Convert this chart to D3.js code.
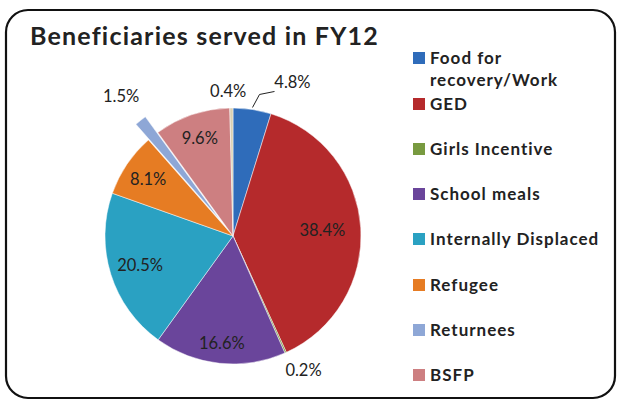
<!DOCTYPE html>
<html lang="en">
    <head>
        <meta charset="utf-8">
        <title>Beneficiaries served in FY12</title>
        <script type="text/javascript" src="https://cdn.jsdelivr.net/npm/d3@7"></script>
        <style type="text/css">
            body {
                margin: 0;
                background: white;
            }
            text {
                font-family: Lato, "Open Sans", sans-serif;
                fill: #222;
            }
        </style>
    </head>
    <body>
        <script type="text/javascript">
            //Data
            var categories = ["Food for recovery/Work", "GED", "Girls Incentive", "School meals",
                              "Internally Displaced", "Refugee", "Returnees", "BSFP", "Other"];
            var values = [4.8, 38.4, 0.2, 16.6, 20.5, 8.1, 1.5, 9.6, 0.4];
            var labels = ["4.8%", "38.4%", "0.2%", "16.6%", "20.5%", "8.1%", "1.5%", "9.6%", "0.4%"];
            var legendNames = [["Food for", "recovery/Work"], ["GED"], ["Girls Incentive"], ["School meals"],
                               ["Internally Displaced"], ["Refugee"], ["Returnees"], ["BSFP"]];
            var colors = ["#2f6cba", "#b52a2c", "#789a40", "#6a459b", "#2aa1c2",
                          "#e67c23", "#8ea7d6", "#cd7f81", "#d9d0b2"];

            //Width and height
            var w = 621;
            var h = 403;
            var cx = 233;
            var cy = 236;
            var radius = 128;

            //Create SVG element
            var svg = d3.select("body")
                        .append("svg")
                        .attr("width", w)
                        .attr("height", h);

            //Rounded frame
            svg.append("rect")
               .attr("x", 6)
               .attr("y", 10)
               .attr("width", 609)
               .attr("height", 388)
               .attr("rx", 22)
               .attr("fill", "white")
               .attr("stroke", "#111")
               .attr("stroke-width", 2.2);

            //Title
            svg.append("text")
               .attr("x", 30)
               .attr("y", 45)
               .attr("font-size", "25px")
               .attr("font-weight", "bold")
               .attr("letter-spacing", "1.2px")
               .text("Beneficiaries served in FY12");

            //Pie layout, clockwise from the top, no sorting
            var pie = d3.pie()
                        .sort(null)
                        .value(function(d) { return d; });
            var arcs = pie(values);

            var arc = d3.arc()
                        .innerRadius(0)
                        .outerRadius(radius);

            //Returnees slice is pulled out of the pie
            var explode = [0, 0, 0, 0, 0, 0, 20, 0, 0];

            var g = svg.append("g")
                       .attr("transform", "translate(" + cx + "," + cy + ")");

            g.selectAll("path")
             .data(arcs)
             .enter()
             .append("path")
             .attr("d", arc)
             .attr("fill", function(d, i) { return colors[i]; })
             .attr("stroke", "rgba(255,255,255,0.6)")
             .attr("stroke-width", 0.8)
             .attr("transform", function(d, i) {
                  var a = (d.startAngle + d.endAngle) / 2;
                  return "translate(" + (Math.sin(a) * explode[i]) + "," + (-Math.cos(a) * explode[i]) + ")";
             });

            //Label positions as radius fraction plus small nudges for the outside labels
            var labelR = [1.17, 0.70, 1.15, 0.84, 0.76, 0.80, 1.40, 0.81, 1.13];
            var labelDx = [37, 0, 10, 0, 0, 0, 0, 0, -3];
            var labelDy = [-6, 0, 0, 0, 0, 0, 0, 0, 0];

            g.selectAll("text.lbl")
             .data(arcs)
             .enter()
             .append("text")
             .attr("class", "lbl")
             .attr("text-anchor", "middle")
             .attr("font-size", "16.5px")
             .attr("x", function(d, i) {
                  var a = (d.startAngle + d.endAngle) / 2;
                  return Math.sin(a) * radius * labelR[i] + labelDx[i];
             })
             .attr("y", function(d, i) {
                  var a = (d.startAngle + d.endAngle) / 2;
                  return -Math.cos(a) * radius * labelR[i] + labelDy[i] + 6;
             })
             .text(function(d, i) { return labels[i]; });

            //Leader line for the 4.8% label
            var a0 = (arcs[0].startAngle + arcs[0].endAngle) / 2;
            var p1 = [Math.sin(a0) * (radius + 2), -Math.cos(a0) * (radius + 2)];
            g.append("polyline")
             .attr("points", [p1, [p1[0] + 7, p1[1] - 13], [p1[0] + 22, p1[1] - 16]].join(" "))
             .attr("fill", "none")
             .attr("stroke", "#222")
             .attr("stroke-width", 1);

            //Legend
            var legendY = [57, 103, 148, 193, 238, 284, 329, 374];
            var legend = svg.selectAll("g.legend")
                            .data(legendNames)
                            .enter()
                            .append("g")
                            .attr("class", "legend")
                            .attr("transform", function(d, i) { return "translate(413," + legendY[i] + ")"; });

            legend.append("rect")
                  .attr("x", 0)
                  .attr("y", -5)
                  .attr("width", 12)
                  .attr("height", 12)
                  .attr("fill", function(d, i) { return colors[i]; });

            legend.append("text")
                  .attr("font-size", "17px")
                  .attr("font-weight", "bold")
                  .attr("letter-spacing", "1px")
                  .selectAll("tspan")
                  .data(function(d) { return d; })
                  .enter()
                  .append("tspan")
                  .attr("x", 17)
                  .attr("y", function(d, i) { return 7 + i * 22; })
                  .text(function(d) { return d; });
        </script>
    </body>
</html>
